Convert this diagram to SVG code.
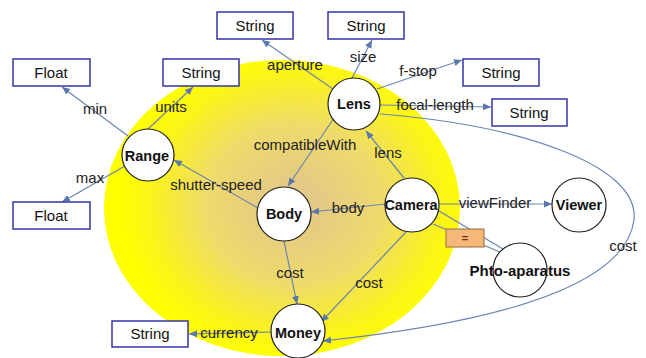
<svg xmlns="http://www.w3.org/2000/svg" width="646" height="358" viewBox="0 0 646 358">
<defs>
<radialGradient id="glow" cx="295" cy="205" r="175" gradientUnits="userSpaceOnUse" gradientTransform="translate(295 205) scale(1 0.9) translate(-295 -205)">
<stop offset="0" stop-color="#dfc48e"/>
<stop offset="0.5" stop-color="#efda6c"/>
<stop offset="0.82" stop-color="#fbf31c"/>
<stop offset="1" stop-color="#ffff00"/>
</radialGradient>
<marker id="arr" markerUnits="userSpaceOnUse" markerWidth="10" markerHeight="8" refX="8" refY="4" orient="auto">
<path d="M0,0.5 L8,4 L0,7.5 Z" fill="#5a78aa"/>
</marker>
</defs>
<style>
.e{fill:none;stroke:#6a85b0;stroke-width:1.2}
.ea{fill:none;stroke:#6a85b0;stroke-width:1.2;marker-end:url(#arr)}
.lbl{font-family:"Liberation Sans",Arial,sans-serif;font-size:15px;fill:#222;text-anchor:middle}
.n circle{fill:#fff;stroke:#222;stroke-width:1.2}
.n text{font-family:"Liberation Sans",Arial,sans-serif;font-size:14.5px;font-weight:bold;fill:#111;text-anchor:middle}
.b rect{fill:#fff;stroke:#3535a8;stroke-width:1.5}
.b text{font-family:"Liberation Sans",Arial,sans-serif;font-size:15px;fill:#111;text-anchor:middle}
</style>
<rect width="646" height="358" fill="#fff"/>
<ellipse cx="282" cy="208" rx="178" ry="148" fill="url(#glow)"/>

<g id="connectors">
<line class="ea" x1="333" y1="89" x2="262" y2="40"/>
<line class="ea" x1="352" y1="78" x2="372" y2="40"/>
<line class="ea" x1="377" y1="89" x2="462" y2="60"/>
<line class="ea" x1="380" y1="105" x2="491" y2="107"/>
<path class="ea" d="M380 114 C520 125,640 165,634 220 C626 280,520 320,323 341"/>
<line class="ea" x1="334" y1="118" x2="288" y2="186"/>
<line class="ea" x1="404" y1="178" x2="366" y2="131"/>
<line class="ea" x1="128" y1="136" x2="62" y2="87"/>
<line class="ea" x1="148" y1="129" x2="193" y2="87"/>
<line class="ea" x1="125" y1="166" x2="62" y2="202"/>
<line class="ea" x1="258" y1="208" x2="174" y2="160"/>
<line class="ea" x1="385" y1="204" x2="311" y2="212"/>
<line class="ea" x1="284" y1="241" x2="297" y2="304"/>
<line class="ea" x1="406" y1="232" x2="321" y2="322"/>
<line class="ea" x1="439" y1="204" x2="552" y2="204"/>
<line class="ea" x1="271" y1="332" x2="189" y2="334"/>
<line class="e" x1="439" y1="211" x2="503" y2="249"/>
<line class="e" x1="433" y1="224" x2="500" y2="252"/>
</g>

<g id="labels">
<text class="lbl" x="295" y="70">aperture</text>
<text class="lbl" x="363" y="62">size</text>
<text class="lbl" x="418" y="76">f-stop</text>
<text class="lbl" x="435" y="110">focal-length</text>
<text class="lbl" x="388" y="158">lens</text>
<text class="lbl" x="305" y="150">compatibleWith</text>
<text class="lbl" x="95" y="114">min</text>
<text class="lbl" x="171" y="112">units</text>
<text class="lbl" x="90" y="183">max</text>
<text class="lbl" x="216" y="190">shutter-speed</text>
<text class="lbl" x="348" y="213">body</text>
<text class="lbl" x="495" y="208">viewFinder</text>
<text class="lbl" x="290" y="278">cost</text>
<text class="lbl" x="369" y="288">cost</text>
<text class="lbl" x="623" y="251">cost</text>
<text class="lbl" x="229" y="338">currency</text>
</g>

<g id="equiv">
<rect x="446" y="229" width="38" height="18" fill="#f5b878" stroke="#9a6a40" stroke-width="1"/>
<text x="465" y="242" font-family="Liberation Sans,Arial,sans-serif" font-size="11" font-weight="bold" fill="#6a2a1a" text-anchor="middle">=</text>
</g>

<g id="box-aperture" class="b"><rect x="217" y="12" width="76" height="27"/><text x="255" y="31">String</text></g>
<g id="box-size" class="b"><rect x="328" y="12" width="76" height="27"/><text x="366" y="31">String</text></g>
<g id="box-min" class="b"><rect x="13" y="59" width="77" height="27"/><text x="51" y="78">Float</text></g>
<g id="box-units" class="b"><rect x="163" y="59" width="76" height="27"/><text x="201" y="78">String</text></g>
<g id="box-fstop" class="b"><rect x="463" y="59" width="76" height="27"/><text x="501" y="78">String</text></g>
<g id="box-focal" class="b"><rect x="492" y="99" width="75" height="27"/><text x="529" y="118">String</text></g>
<g id="box-max" class="b"><rect x="13" y="202" width="77" height="27"/><text x="51" y="221">Float</text></g>
<g id="box-currency" class="b"><rect x="112" y="321" width="76" height="26"/><text x="150" y="339">String</text></g>

<g id="lens" class="n"><circle cx="354" cy="104" r="26"/><text x="354" y="109">Lens</text></g>
<g id="range" class="n"><circle cx="148" cy="155" r="26"/><text x="147" y="161">Range</text></g>
<g id="body" class="n"><circle cx="284" cy="214" r="27"/><text x="284" y="219">Body</text></g>
<g id="camera" class="n"><circle cx="412" cy="205" r="27"/><text x="411" y="210">Camera</text></g>
<g id="viewer" class="n"><circle cx="579" cy="205" r="27"/><text x="579" y="210">Viewer</text></g>
<g id="photo" class="n"><circle cx="520" cy="270" r="27"/><text x="520" y="276" style="font-size:15px">Phto-aparatus</text></g>
<g id="money" class="n"><circle cx="298" cy="331" r="27"/><text x="298" y="338">Money</text></g>
</svg>
